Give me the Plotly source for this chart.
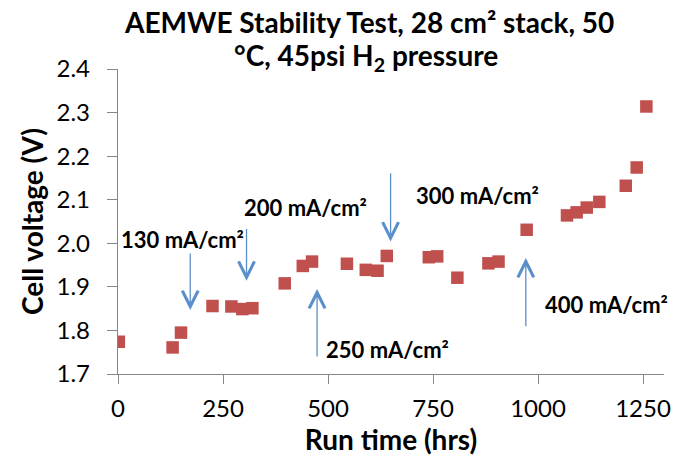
import plotly.graph_objects as go

# Data
run_time = [2, 130, 150, 225, 270, 296, 320, 397, 440, 462, 545, 590, 618, 640,
            740, 760, 808, 882, 906, 973, 1069, 1092, 1116, 1146, 1209, 1235, 1258]
cell_voltage = [1.774, 1.761, 1.795, 1.856, 1.855, 1.849, 1.851, 1.908, 1.948, 1.958,
                1.953, 1.939, 1.937, 1.971, 1.968, 1.970, 1.921, 1.954, 1.958, 2.031,
                2.064, 2.071, 2.082, 2.095, 2.132, 2.174, 2.314]

x_ticks = [0, 250, 500, 750, 1000, 1250]
y_ticks = [1.7, 1.8, 1.9, 2.0, 2.1, 2.2, 2.3, 2.4]

# Current-density annotations: label, label position, arrow x, arrow tail, arrow head
labels = ["130 mA/cm²", "200 mA/cm²", "250 mA/cm²", "300 mA/cm²", "400 mA/cm²"]
label_x = [153, 447, 641, 857, 1163]
label_y = [2.008, 2.082, 1.757, 2.109, 1.859]
arrow_x = [172, 306, 474, 649, 971]
arrow_tail = [1.980, 2.036, 1.737, 2.164, 1.806]
arrow_head = [1.847, 1.914, 1.895, 2.004, 1.966]

FONT = "Lato"
fig = go.Figure()
fig.add_trace(go.Scatter(
    x=run_time, y=cell_voltage, mode="markers",
    marker=dict(symbol="square", size=12.5, color="#C0504D"),
    showlegend=False, hoverinfo="x+y"))

annotations = []
for lab, lx, ly in zip(labels, label_x, label_y):
    annotations.append(dict(x=lx, y=ly, xref="x", yref="y", text="<b>" + lab + "</b>",
                            showarrow=False, font=dict(family=FONT, size=22, color="#000000"),
                            xanchor="center", yanchor="middle"))
for ax_, t, h in zip(arrow_x, arrow_tail, arrow_head):
    annotations.append(dict(x=ax_, y=h, ax=ax_, ay=t, xref="x", yref="y", axref="x", ayref="y",
                            text="", showarrow=True, arrowhead=5, arrowsize=2.4,
                            arrowwidth=1.3, arrowcolor="#5B8FCB"))

annotations.append(dict(x=0.46, y=1.155, xref="paper", yref="paper", xanchor="center",
                        yanchor="middle", showarrow=False,
                        text="<b>AEMWE Stability Test, 28 cm² stack, 50</b>",
                        font=dict(family=FONT, size=28, color="#000000")))
annotations.append(dict(x=0.455, y=1.04, xref="paper", yref="paper", xanchor="center",
                        yanchor="middle", showarrow=False,
                        text="<b>°C, 45psi H<sub>2</sub> pressure</b>",
                        font=dict(family=FONT, size=28, color="#000000")))

fig.update_layout(
    width=683, height=458,
    margin=dict(l=118, r=17, t=69, b=84),
    paper_bgcolor="white", plot_bgcolor="white",
    font=dict(family=FONT, color="#000000"),
    annotations=annotations,
    xaxis=dict(range=[0, 1300], tickvals=x_ticks, ticktext=[str(v) for v in x_ticks],
               showgrid=False, zeroline=False, showline=True, linecolor="#868686", linewidth=1.3,
               ticks="outside", ticklen=9, tickcolor="#868686", tickwidth=1.3,
               ticklabelstandoff=4,
               tickfont=dict(family=FONT, size=24, color="#000000"),
               title=dict(text="<b>Run time (hrs)</b>", font=dict(family=FONT, size=28, color="#000000"),
                          standoff=0)),
    yaxis=dict(range=[1.7, 2.4], tickvals=y_ticks, ticktext=["%.1f" % v for v in y_ticks],
               showgrid=False, zeroline=False, showline=True, linecolor="#868686", linewidth=1.3,
               ticks="outside", ticklen=10, tickcolor="#868686", tickwidth=1.3,
               ticklabelstandoff=12,
               tickfont=dict(family=FONT, size=24, color="#000000"),
               title=dict(text="<b>Cell voltage (V)</b>", font=dict(family=FONT, size=28, color="#000000"),
                          standoff=4)),
)

fig.write_html("out.html")
